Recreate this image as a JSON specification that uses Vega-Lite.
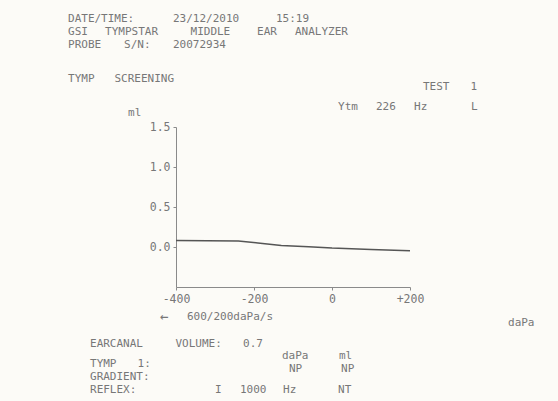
{
  "$schema": "https://vega.github.io/schema/vega-lite/v6.json",
  "autosize": "none",
  "width": 234,
  "height": 160,
  "padding": {"left": 176, "top": 127, "right": 148, "bottom": 114},
  "background": "#fcfbf7",
  "config": {
    "view": {"stroke": null},
    "text": {"font": "DejaVu Sans Mono", "fontSize": 11, "color": "#777777", "align": "left", "baseline": "middle"},
    "axis": {
      "labelFont": "DejaVu Sans Mono", "labelFontSize": 11.5, "labelColor": "#777777", "labelFlush": false,
      "domainColor": "#8a8a8a", "tickColor": "#8a8a8a", "tickSize": 3, "grid": false, "title": null
    }
  },
  "data": {"values": [{}]},
  "datasets": {
    "tymp": [
      {"pressure": -400, "compliance": 0.08},
      {"pressure": -240, "compliance": 0.075},
      {"pressure": -190, "compliance": 0.05},
      {"pressure": -130, "compliance": 0.018},
      {"pressure": -60, "compliance": 0.004},
      {"pressure": 0, "compliance": -0.014},
      {"pressure": 100, "compliance": -0.03},
      {"pressure": 200, "compliance": -0.048}
    ]
  },
  "layer": [
    {
      "data": {"name": "tymp"},
      "mark": {"type": "line", "color": "#555555", "strokeWidth": 1.5},
      "encoding": {
        "x": {"field": "pressure", "type": "quantitative",
          "scale": {"domain": [-400, 200], "nice": false, "zero": false},
          "axis": {"values": [-400, -300, -200, -100, 0, 100, 200], "labelPadding": 3,
            "labelExpr": "datum.value % 200 == 0 ? (datum.value > 0 ? '+' + datum.value : '' + datum.value) : ''"}},
        "y": {"field": "compliance", "type": "quantitative",
          "scale": {"domain": [-0.5, 1.5], "nice": false, "zero": false},
          "axis": {"values": [0, 0.5, 1, 1.5], "format": ".1f", "labelPadding": 3}}
      }
    },
    {"mark": "text", "encoding": {"x": {"datum": -676.9}, "y": {"datum": 2.85}, "text": {"value": "DATE/TIME:"}}},
    {"mark": "text", "encoding": {"x": {"datum": -407.7}, "y": {"datum": 2.85}, "text": {"value": "23/12/2010"}}},
    {"mark": "text", "encoding": {"x": {"datum": -143.6}, "y": {"datum": 2.85}, "text": {"value": "15:19"}}},
    {"mark": "text", "encoding": {"x": {"datum": -676.9}, "y": {"datum": 2.6875}, "text": {"value": "GSI"}}},
    {"mark": "text", "encoding": {"x": {"datum": -582}, "y": {"datum": 2.6875}, "text": {"value": "TYMPSTAR"}}},
    {"mark": "text", "encoding": {"x": {"datum": -362.8}, "y": {"datum": 2.6875}, "text": {"value": "MIDDLE"}}},
    {"mark": "text", "encoding": {"x": {"datum": -192.3}, "y": {"datum": 2.6875}, "text": {"value": "EAR"}}},
    {"mark": "text", "encoding": {"x": {"datum": -94.9}, "y": {"datum": 2.6875}, "text": {"value": "ANALYZER"}}},
    {"mark": "text", "encoding": {"x": {"datum": -676.9}, "y": {"datum": 2.525}, "text": {"value": "PROBE"}}},
    {"mark": "text", "encoding": {"x": {"datum": -533.3}, "y": {"datum": 2.525}, "text": {"value": "S/N:"}}},
    {"mark": "text", "encoding": {"x": {"datum": -407.7}, "y": {"datum": 2.525}, "text": {"value": "20072934"}}},
    {"mark": "text", "encoding": {"x": {"datum": -676.9}, "y": {"datum": 2.1}, "text": {"value": "TYMP"}}},
    {"mark": "text", "encoding": {"x": {"datum": -557.7}, "y": {"datum": 2.1}, "text": {"value": "SCREENING"}}},
    {"mark": "text", "encoding": {"x": {"datum": 233.3}, "y": {"datum": 2.0}, "text": {"value": "TEST"}}},
    {"mark": "text", "encoding": {"x": {"datum": 355.1}, "y": {"datum": 2.0}, "text": {"value": "1"}}},
    {"mark": "text", "encoding": {"x": {"datum": 15.4}, "y": {"datum": 1.75}, "text": {"value": "Ytm"}}},
    {"mark": "text", "encoding": {"x": {"datum": 112.8}, "y": {"datum": 1.75}, "text": {"value": "226"}}},
    {"mark": "text", "encoding": {"x": {"datum": 210.3}, "y": {"datum": 1.75}, "text": {"value": "Hz"}}},
    {"mark": "text", "encoding": {"x": {"datum": 356.4}, "y": {"datum": 1.75}, "text": {"value": "L"}}},
    {"mark": "text", "encoding": {"x": {"datum": -523}, "y": {"datum": 1.675}, "text": {"value": "ml"}}},
    {"mark": {"type": "text", "fontSize": 14}, "encoding": {"x": {"datum": -441}, "y": {"datum": -0.875}, "text": {"value": "←"}}},
    {"mark": "text", "encoding": {"x": {"datum": -371.8}, "y": {"datum": -0.875}, "text": {"value": "600/200daPa/s"}}},
    {"mark": "text", "encoding": {"x": {"datum": 451.3}, "y": {"datum": -0.95}, "text": {"value": "daPa"}}},
    {"mark": "text", "encoding": {"x": {"datum": -620.5}, "y": {"datum": -1.2125}, "text": {"value": "EARCANAL"}}},
    {"mark": "text", "encoding": {"x": {"datum": -401.3}, "y": {"datum": -1.2125}, "text": {"value": "VOLUME:"}}},
    {"mark": "text", "encoding": {"x": {"datum": -228}, "y": {"datum": -1.2125}, "text": {"value": "0.7"}}},
    {"mark": "text", "encoding": {"x": {"datum": -128.2}, "y": {"datum": -1.3625}, "text": {"value": "daPa"}}},
    {"mark": "text", "encoding": {"x": {"datum": 17.9}, "y": {"datum": -1.3625}, "text": {"value": "ml"}}},
    {"mark": "text", "encoding": {"x": {"datum": -620.5}, "y": {"datum": -1.4625}, "text": {"value": "TYMP"}}},
    {"mark": "text", "encoding": {"x": {"datum": -498.7}, "y": {"datum": -1.4625}, "text": {"value": "1:"}}},
    {"mark": "text", "encoding": {"x": {"datum": -110.3}, "y": {"datum": -1.525}, "text": {"value": "NP"}}},
    {"mark": "text", "encoding": {"x": {"datum": 23.1}, "y": {"datum": -1.525}, "text": {"value": "NP"}}},
    {"mark": "text", "encoding": {"x": {"datum": -620.5}, "y": {"datum": -1.625}, "text": {"value": "GRADIENT:"}}},
    {"mark": "text", "encoding": {"x": {"datum": -620.5}, "y": {"datum": -1.7875}, "text": {"value": "REFLEX:"}}},
    {"mark": "text", "encoding": {"x": {"datum": -300}, "y": {"datum": -1.7875}, "text": {"value": "I"}}},
    {"mark": "text", "encoding": {"x": {"datum": -235.9}, "y": {"datum": -1.7875}, "text": {"value": "1000"}}},
    {"mark": "text", "encoding": {"x": {"datum": -125.6}, "y": {"datum": -1.7875}, "text": {"value": "Hz"}}},
    {"mark": "text", "encoding": {"x": {"datum": 15.4}, "y": {"datum": -1.7875}, "text": {"value": "NT"}}}
  ]
}
